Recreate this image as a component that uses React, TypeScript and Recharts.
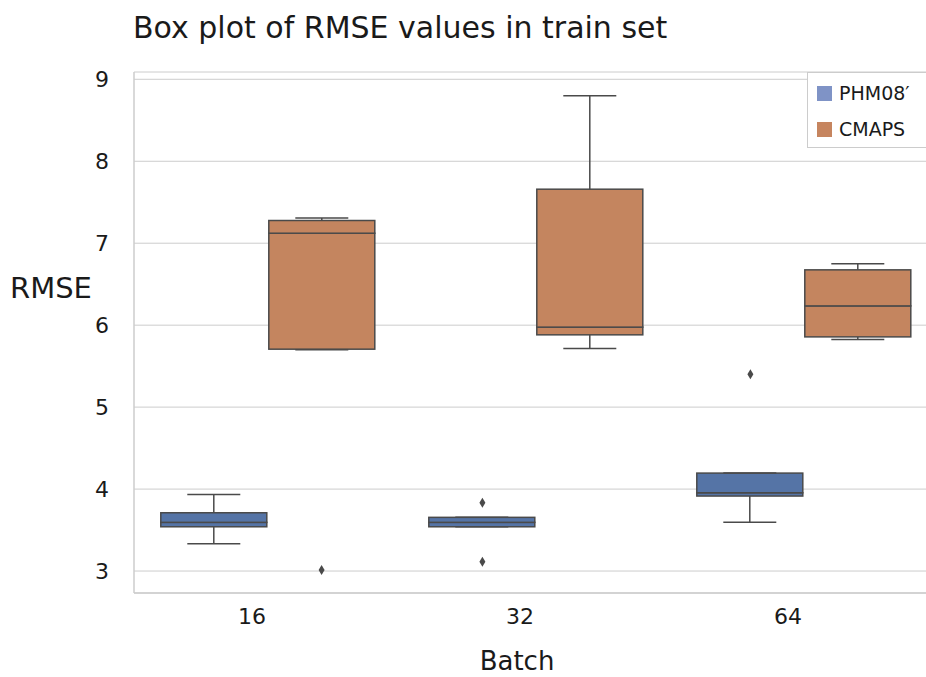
import React from 'react';
import { ComposedChart, Bar, Scatter, XAxis, YAxis, CartesianGrid } from 'recharts';

// ---- data ----
const batches = ['16', '32', '64'];
const seriesNames = ['PHM08\u2032', 'CMAPS'];
const seriesColors = ['#5574a6', '#c4855f'];
const legendColors = ['#7f93c6', '#c6855f'];

// PHM08'
const phmMin = [3.333, 3.54, 3.594];
const phmQ1 = [3.54, 3.54, 3.915];
const phmMed = [3.594, 3.594, 3.955];
const phmQ3 = [3.711, 3.655, 4.195];
const phmMax = [3.935, 3.655, 4.195];
const phmOutliers = [[], [3.833, 3.113], [5.402]];

// CMAPS
const cmMin = [5.70, 5.716, 5.826];
const cmQ1 = [5.707, 5.882, 5.857];
const cmMed = [7.122, 5.976, 6.235];
const cmQ3 = [7.277, 7.659, 6.675];
const cmMax = [7.309, 8.80, 6.748];
const cmOutliers = [[3.012], [], []];

const yTicks = [3, 4, 5, 6, 7, 8, 9];
const yDomain = [2.732, 9.089];

// ---- derived tables ----
const rows = batches.map((b, i) => ({
  batch: b,
  pBase: phmMin[i],
  pLow: phmQ1[i] - phmMin[i],
  pBox1: phmMed[i] - phmQ1[i],
  pBox2: phmQ3[i] - phmMed[i],
  pHigh: phmMax[i] - phmQ3[i],
  cBase: cmMin[i],
  cLow: cmQ1[i] - cmMin[i],
  cBox1: cmMed[i] - cmQ1[i],
  cBox2: cmQ3[i] - cmMed[i],
  cHigh: cmMax[i] - cmQ3[i],
}));

const HUE_OFFSET = 0.2;
const outlierPoints: { x: number; y: number }[] = [];
phmOutliers.forEach((list, i) => list.forEach((v) => outlierPoints.push({ x: i - HUE_OFFSET, y: v })));
cmOutliers.forEach((list, i) => list.forEach((v) => outlierPoints.push({ x: i + HUE_OFFSET, y: v })));

const EDGE = '#4a4a4a';
const FONT = '"DejaVu Sans", Verdana, sans-serif';

const Empty = () => <g />;

const makeBox = (color: string) => (props: any) => {
  const { x, y, width, height } = props;
  return (
    <rect x={x} y={y} width={width} height={Math.max(height, 0)} fill={color} stroke={EDGE} strokeWidth={1.5} />
  );
};

const LowWhisker = (props: any) => {
  const { x, y, width, height } = props;
  const cx = x + width / 2;
  const yb = y + height;
  return (
    <g>
      <line x1={cx} y1={y} x2={cx} y2={yb} stroke={EDGE} strokeWidth={1.5} />
      <line x1={cx - width / 4} y1={yb} x2={cx + width / 4} y2={yb} stroke={EDGE} strokeWidth={1.5} />
    </g>
  );
};

const HighWhisker = (props: any) => {
  const { x, y, width, height } = props;
  const cx = x + width / 2;
  return (
    <g>
      <line x1={cx} y1={y} x2={cx} y2={y + height} stroke={EDGE} strokeWidth={1.5} />
      <line x1={cx - width / 4} y1={y} x2={cx + width / 4} y2={y} stroke={EDGE} strokeWidth={1.5} />
    </g>
  );
};

const Diamond = (props: any) => {
  const { cx, cy } = props;
  return (
    <polygon
      points={`${cx},${cy - 5} ${cx + 3},${cy} ${cx},${cy + 5} ${cx - 3},${cy}`}
      fill={EDGE}
    />
  );
};

const XTick = (props: any) => {
  const { x, y, payload } = props;
  return (
    <text x={x - 16} y={y + 23} textAnchor="middle" fontSize={22} fontFamily={FONT} fill="#1a1a1a">
      {payload.value}
    </text>
  );
};

const YTick = (props: any) => {
  const { x, y, payload } = props;
  return (
    <text x={x + 1} y={y + 8} textAnchor="end" fontSize={22} fontFamily={FONT} fill="#1a1a1a">
      {payload.value}
    </text>
  );
};

const XLabel = (props: any) => {
  const vb = props.viewBox || {};
  return (
    <text x={vb.x + vb.width / 2 - 19} y={vb.y + 77} textAnchor="middle" fontSize={26} fontFamily={FONT} fill="#1a1a1a">
      Batch
    </text>
  );
};

const YLabel = () => (
  <text x={10} y={298} textAnchor="start" fontSize={29} fontFamily={FONT} fill="#1a1a1a">
    RMSE
  </text>
);

const boxShapes = seriesColors.map((c) => makeBox(c));

export default function App() {
  return (
    <div style={{ position: 'absolute', left: 0, top: 0, width: 926, height: 677, overflow: 'hidden', background: '#fff' }}>
      <div
        style={{
          position: 'absolute',
          left: 133,
          top: 10,
          fontFamily: FONT,
          fontSize: 30,
          lineHeight: '36px',
          color: '#1a1a1a',
          whiteSpace: 'nowrap',
        }}
      >
        Box plot of RMSE values in train set
      </div>
      <ComposedChart
        width={960}
        height={677}
        data={rows}
        margin={{ top: 72, right: 22, left: 0, bottom: 0 }}
        barCategoryGap="10%"
        barGap={2}
      >
        <CartesianGrid vertical={false} stroke="#cccccc" strokeWidth={1} />
        <XAxis
          dataKey="batch"
          type="category"
          axisLine={{ stroke: '#cccccc', strokeWidth: 1.5 }}
          tickLine={false}
          height={84}
          tick={<XTick />}
          label={<XLabel />}
        />
        <XAxis
          xAxisId="num"
          dataKey="x"
          type="number"
          orientation="top"
          domain={[-0.5, 2.5]}
          allowDataOverflow
          height={0}
          tick={false}
          tickLine={false}
          axisLine={{ stroke: '#cccccc', strokeWidth: 1.5 }}
        />
        <YAxis
          type="number"
          domain={yDomain}
          ticks={yTicks}
          allowDataOverflow
          width={134}
          axisLine={{ stroke: '#cccccc', strokeWidth: 1.5 }}
          tickLine={false}
          tickSize={0}
          tickMargin={26}
          tick={<YTick />}
          label={<YLabel />}
        />
        <Bar dataKey="pBase" stackId="p" isAnimationActive={false} shape={<Empty />} />
        <Bar dataKey="pLow" stackId="p" isAnimationActive={false} shape={LowWhisker} />
        <Bar dataKey="pBox1" stackId="p" isAnimationActive={false} shape={boxShapes[0]} />
        <Bar dataKey="pBox2" stackId="p" isAnimationActive={false} shape={boxShapes[0]} />
        <Bar dataKey="pHigh" stackId="p" isAnimationActive={false} shape={HighWhisker} />
        <Bar dataKey="cBase" stackId="c" isAnimationActive={false} shape={<Empty />} />
        <Bar dataKey="cLow" stackId="c" isAnimationActive={false} shape={LowWhisker} />
        <Bar dataKey="cBox1" stackId="c" isAnimationActive={false} shape={boxShapes[1]} />
        <Bar dataKey="cBox2" stackId="c" isAnimationActive={false} shape={boxShapes[1]} />
        <Bar dataKey="cHigh" stackId="c" isAnimationActive={false} shape={HighWhisker} />
        <Scatter data={outlierPoints} dataKey="y" xAxisId="num" isAnimationActive={false} shape={Diamond} />
      </ComposedChart>
      <div
        style={{
          position: 'absolute',
          left: 807,
          top: 72,
          width: 140,
          height: 76,
          border: '1px solid #cccccc',
          background: '#fff',
          boxSizing: 'border-box',
          fontFamily: FONT,
          fontSize: 19,
          color: '#1a1a1a',
        }}
      >
        {seriesNames.map((name, i) => (
          <div key={name} style={{ position: 'absolute', left: 9, top: 8 + i * 36, height: 24, display: 'flex', alignItems: 'center' }}>
            <span style={{ display: 'inline-block', width: 15, height: 15, background: legendColors[i], marginRight: 7 }} />
            <span style={{ lineHeight: '24px' }}>{name}</span>
          </div>
        ))}
      </div>
    </div>
  );
}
